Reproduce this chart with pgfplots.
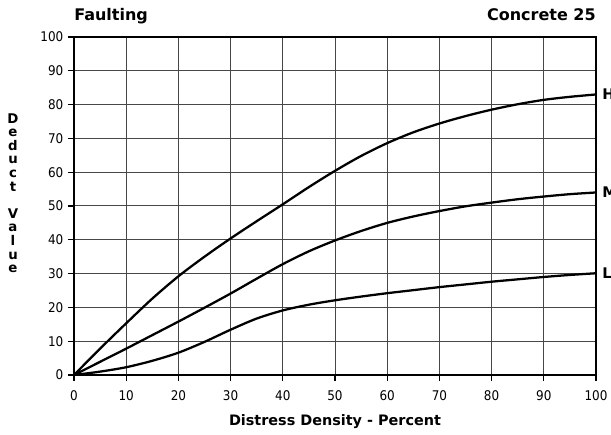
\documentclass[border=0pt]{standalone}
\usepackage{pgfplots}
\pgfplotsset{compat=1.18}
\usepackage{fontspec}
\setmainfont{DejaVu Sans}
\newfontfamily\condfont{DejaVu Sans Condensed}
\begin{document}
\begin{tikzpicture}
\begin{axis}[
  scale only axis,
  width=391.5pt, height=253.5pt,
  xmin=0, xmax=100, ymin=0, ymax=100,
  xtick={0,10,...,100}, ytick={0,10,...,100},
  grid=major,
  grid style={draw=black!72, line width=0.75pt},
  axis line style={black, line width=1pt},
  tick align=outside,
  major tick length=4.5pt,
  tick style={black, line width=0.8pt},
  xtick pos=bottom, ytick pos=left,
  /pgf/number format/assume math mode=true,
  ticklabel style={font=\condfont\fontsize{10}{12}\selectfont},
  xticklabel style={yshift=-3.5pt},
  xlabel={\bfseries Distress Density - Percent},
  xlabel style={font=\fontsize{10.8}{12}\selectfont, yshift=-4pt},
  clip=false,
]
\addplot[black, line width=1.7pt, smooth] coordinates {
(0,0) (5,7.8) (10,15.3) (15,22.6) (20,29.2) (25,35.0) (30,40.4) (35,45.5) (40,50.5) (45,55.6) (50,60.4) (55,64.8) (60,68.6) (65,71.8) (70,74.4) (75,76.6) (80,78.5) (85,80.1) (90,81.4) (95,82.3) (100,83)};
\addplot[black, line width=1.7pt, smooth] coordinates {
(0,0) (5,3.9) (10,7.8) (15,11.8) (20,15.8) (25,19.9) (30,24.1) (35,28.5) (40,32.8) (45,36.6) (50,39.8) (55,42.6) (60,45) (65,46.9) (70,48.5) (75,49.9) (80,51) (85,52) (90,52.8) (95,53.5) (100,54)};
\addplot[black, line width=1.7pt, smooth] coordinates {
(0,0) (5,1) (10,2.3) (15,4.2) (20,6.6) (25,9.8) (30,13.4) (35,16.7) (40,19.1) (45,20.8) (50,22.1) (55,23.2) (60,24.2) (65,25.1) (70,26) (75,26.8) (80,27.6) (85,28.3) (90,29) (95,29.6) (100,30.1)};
\node[anchor=base west, font=\bfseries\fontsize{12}{14}\selectfont, inner sep=0pt] at ([yshift=12.5pt]rel axis cs:0,1) {Faulting};
\node[anchor=base east, font=\bfseries\fontsize{12}{14}\selectfont, inner sep=0pt] at ([yshift=12.5pt]rel axis cs:1,1) {Concrete 25};
\node[anchor=west, font=\bfseries\fontsize{11}{13}\selectfont, inner sep=0pt] at ([xshift=4.5pt]axis cs:100,83) {H};
\node[anchor=west, font=\bfseries\fontsize{11}{13}\selectfont, inner sep=0pt] at ([xshift=4.5pt]axis cs:100,54) {M};
\node[anchor=west, font=\bfseries\fontsize{11}{13}\selectfont, inner sep=0pt] at ([xshift=4.5pt]axis cs:100,30) {L};
\node[align=center, font=\bfseries\fontsize{10}{10.2}\selectfont, inner sep=0pt] at ([xshift=-45.75pt]rel axis cs:0,0.538) {D\\e\\d\\u\\c\\t\\[10.2pt]V\\a\\l\\u\\e};
\end{axis}
\pgfresetboundingbox
\useasboundingbox (-55.5pt,-45pt) rectangle (402.75pt,281.25pt);
\end{tikzpicture}
\end{document}
